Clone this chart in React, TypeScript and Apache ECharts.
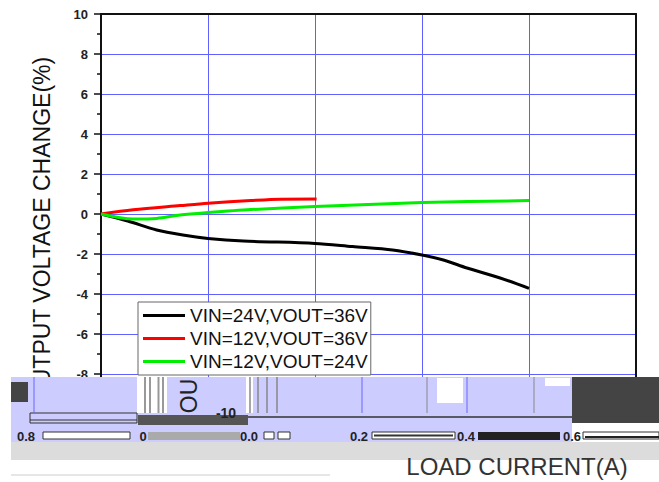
import React, { useEffect, useRef } from "react";
import * as echarts from "echarts";

// Load current (A) and output voltage change (%) per curve
const blackX = [0, 0.05, 0.104, 0.153, 0.2, 0.266, 0.4, 0.47, 0.545, 0.6, 0.64, 0.684, 0.746, 0.8];
const blackY = [0, -0.35, -0.8, -1.05, -1.22, -1.35, -1.47, -1.63, -1.8, -2.05, -2.3, -2.7, -3.2, -3.72];
const redX = [0, 0.06, 0.148, 0.2, 0.28, 0.335, 0.403];
const redY = [0, 0.21, 0.42, 0.54, 0.67, 0.74, 0.75];
const greenX = [0, 0.06, 0.104, 0.148, 0.2, 0.28, 0.4, 0.6, 0.8];
const greenY = [0, -0.25, -0.22, -0.05, 0.07, 0.22, 0.37, 0.57, 0.67];

const seriesNames = ["VIN=24V,VOUT=36V", "VIN=12V,VOUT=36V", "VIN=12V,VOUT=24V"];
const seriesColors = ["#000000", "#ff0000", "#00ee00"];

// tick labels visible in the distorted bottom strip
const stripLabels = ["0.8", "0", "0.0", "0.2", "0.4", "0.6"];
const stripLabelX = [26, 143, 249, 359, 466, 572];

const pairs = (xs: number[], ys: number[]) => xs.map((x, i) => [x, ys[i]]);

export default function App() {
  const ref = useRef<HTMLDivElement>(null);
  useEffect(() => {
    if (!ref.current) return;
    const chart = echarts.init(ref.current, undefined, { renderer: "svg" });
    const font = "'Liberation Sans', Arial, sans-serif";
    const lav = "#ccccff";
    const rect = (x: number, y: number, w: number, h: number, fill: string, stroke?: string) => ({
      type: "rect",
      z: 50,
      shape: { x, y, width: w, height: h },
      style: stroke ? { fill, stroke, lineWidth: 1 } : { fill },
    });
    const vline = (x: number, y1: number, y2: number, color: string, w = 1) => ({
      type: "line",
      z: 51,
      shape: { x1: x, y1, x2: x, y2 },
      style: { stroke: color, lineWidth: w },
    });
    const hline = (x1: number, x2: number, y: number, color: string, w = 1) => ({
      type: "line",
      z: 51,
      shape: { x1, y1: y, x2, y2: y },
      style: { stroke: color, lineWidth: w },
    });

    const glitch: any[] = [
      rect(11, 377, 561, 65, lav),
      rect(11, 382, 17, 20, "#444"),
      vline(34, 377, 413, "#6666ff"),
      rect(137, 377, 30, 36, "#ffffff"),
      vline(145, 377, 413, "#999", 2),
      vline(150, 377, 413, "#999", 2),
      vline(158.5, 377, 413, "#999", 2),
      vline(163, 377, 413, "#999", 2),
      rect(246, 377, 7, 36, "#ffffff"),
      vline(250, 377, 413, "#888", 1.5),
      vline(258, 377, 413, "#888", 1.5),
      vline(267, 377, 413, "#888", 1.5),
      vline(277, 377, 413, "#888", 1.5),
      rect(437, 378, 26, 25, "#ffffff"),
      rect(545, 378, 25, 8, "#ffffff"),
      vline(362, 377, 413, "#6666ff"),
      vline(467, 377, 413, "#6666ff"),
      vline(427, 377, 413, "#888"),
      vline(534, 377, 413, "#888"),
      rect(572, 377, 87, 46, "#444"),
      // row of broken axis lines
      rect(30, 413, 107, 10, lav, "#333"),
      rect(138, 415, 110, 10, "#555"),
      hline(248, 572, 417, "#333", 1.5),
      hline(30, 137, 420, "#333"),
      // tick-label row bars
      rect(43, 432, 87, 7, "#ffffff", "#333"),
      rect(148, 432, 92, 8, "#aaaaaa"),
      rect(264, 432, 10, 7, "#ffffff", "#333"),
      rect(278, 432, 12, 7, "#ffffff", "#333"),
      rect(372, 432, 83, 7, "#ffffff", "#333"),
      hline(374, 453, 435.5, "#333", 2),
      rect(478, 432, 82, 8, "#222"),
      rect(583, 432, 76, 7, "#ffffff", "#333"),
      hline(585, 659, 437, "#222", 2),
      rect(11, 442, 648, 18, "#dcdcdc"),
      hline(11, 330, 475, "#e6e6e6", 2),
    ];
    stripLabels.forEach((t, i) => {
      glitch.push({
        type: "text",
        z: 60,
        x: stripLabelX[i],
        y: 436,
        style: {
          text: t,
          fill: "#222",
          font: `bold 13px ${font}`,
          align: "center",
          verticalAlign: "middle",
        },
      });
    });
    glitch.push(
      {
        type: "text",
        z: 60,
        x: 226,
        y: 413,
        style: { text: "-10", fill: "#222", font: `bold 14px ${font}`, align: "center", verticalAlign: "middle" },
      },
      {
        type: "text",
        z: 60,
        x: 189,
        y: 396,
        rotation: Math.PI / 2,
        style: { text: "OU", fill: "#222", font: `23px ${font}`, align: "center", verticalAlign: "middle" },
      },
      {
        type: "text",
        z: 40,
        x: 42,
        y: 230,
        rotation: Math.PI / 2,
        style: {
          text: "OUTPUT VOLTAGE CHANGE(%)",
          fill: "#111",
          font: `23px ${font}`,
          align: "center",
          verticalAlign: "middle",
        },
      },
      {
        type: "text",
        z: 60,
        x: 517,
        y: 466,
        style: {
          text: "LOAD CURRENT(A)",
          fill: "#333",
          font: `24px ${font}`,
          align: "center",
          verticalAlign: "middle",
        },
      }
    );

    const datas = [pairs(blackX, blackY), pairs(redX, redY), pairs(greenX, greenY)];
    const frameLine = { show: true, onZero: false, lineStyle: { color: "#111", width: 2 } };

    chart.setOption({
      animation: false,
      backgroundColor: "#ffffff",
      grid: { left: 101, top: 14, width: 535, height: 400 },
      legend: {
        show: true,
        orient: "vertical",
        left: 138,
        top: 302,
        data: seriesNames,
        icon: "rect",
        itemWidth: 42,
        itemHeight: 3,
        itemGap: 4,
        padding: [4, 3, 4, 5],
        borderColor: "#666",
        borderWidth: 1,
        backgroundColor: "#ffffff",
        textStyle: { fontFamily: font, fontSize: 19, lineHeight: 19, color: "#111" },
      },
      xAxis: [
        {
          type: "value",
          min: 0,
          max: 1,
          interval: 0.2,
          axisLine: frameLine,
          axisTick: { show: false },
          axisLabel: { show: false },
          splitLine: { show: true, lineStyle: { color: "#6060ff", width: 1 } },
        },
        {
          type: "value",
          position: "top",
          min: 0,
          max: 1,
          interval: 0.2,
          axisLine: frameLine,
          axisTick: { show: false },
          axisLabel: { show: false },
          splitLine: { show: false },
        },
      ],
      yAxis: [
        {
          type: "value",
          min: -10,
          max: 10,
          interval: 2,
          axisLine: frameLine,
          axisTick: { show: true, length: 7, lineStyle: { color: "#111", width: 1.5 } },
          minorTick: { show: true, splitNumber: 2, length: 4, lineStyle: { color: "#111", width: 1.5 } },
          axisLabel: { show: true, margin: 13, fontFamily: font, fontSize: 13, fontWeight: "bold", color: "#222" },
          splitLine: { show: true, lineStyle: { color: "#6060ff", width: 1 } },
        },
        {
          type: "value",
          position: "right",
          min: -10,
          max: 10,
          interval: 2,
          axisLine: frameLine,
          axisTick: { show: false },
          axisLabel: { show: false },
          splitLine: { show: false },
        },
      ],
      series: seriesNames.map((n, i) => ({
        name: n,
        type: "line",
        data: datas[i],
        showSymbol: false,
        smooth: 0.3,
        color: seriesColors[i],
        lineStyle: { color: seriesColors[i], width: 3 },
        z: 3,
      })),
      graphic: glitch,
    });
    return () => chart.dispose();
  }, []);
  return (
    <div
      ref={ref}
      style={{ position: "absolute", left: 0, top: 0, width: 659, height: 482, background: "#fff" }}
    />
  );
}
